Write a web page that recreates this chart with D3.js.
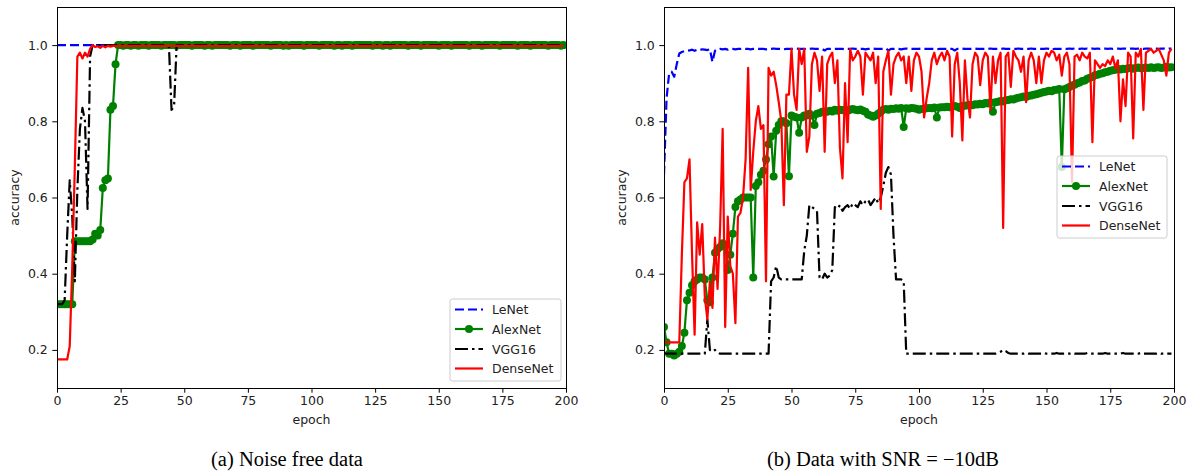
<!DOCTYPE html>
<html><head><meta charset="utf-8">
<script src="https://cdn.jsdelivr.net/npm/d3@7"></script>
<style>body{margin:0;background:#fff;} svg{display:block;}</style>
</head><body><svg id="c" width="1190" height="472"></svg>
<script>
const seriesNames = ["LeNet","AlexNet","VGG16","DenseNet"];
const xTicks = [0,25,50,75,100,125,150,175,200];
const yTicks = [0.2,0.4,0.6,0.8,1.0];
const captions = ["(a) Noise free data","(b) Data with SNR = \u221210dB"];
const epochs = d3.range(200);

// ---- (a) noise free ----
const lenetA = [
1,1,1,1,1,1,1,1,1,1, 1,1,1,1,1,1,1,1,1,1, 1,1,1,1,1,1,1,1,1,1, 1,1,1,1,1,1,1,1,1,1,
1,1,1,1,1,1,1,1,1,1, 1,1,1,1,1,1,1,1,1,1, 1,1,1,1,1,1,1,1,1,1, 1,1,1,1,1,1,1,1,1,1,
1,1,1,1,1,1,1,1,1,1, 1,1,1,1,1,1,1,1,1,1, 1,1,1,1,1,1,1,1,1,1, 1,1,1,1,1,1,1,1,1,1,
1,1,1,1,1,1,1,1,1,1, 1,1,1,1,1,1,1,1,1,1, 1,1,1,1,1,1,1,1,1,1, 1,1,1,1,1,1,1,1,1,1,
1,1,1,1,1,1,1,1,1,1, 1,1,1,1,1,1,1,1,1,1, 1,1,1,1,1,1,1,1,1,1, 1,1,1,1,1,1,1,1,1,1];
const alexA = [
0.32,0.32,0.32,0.32,0.32,0.32,0.32,0.485,0.485,0.485,
0.485,0.485,0.485,0.485,0.49,0.505,0.5,0.515,0.625,0.645,
0.65,0.83,0.84,0.95,1,1,0.998,1,1,0.998,
1,1,0.998,1,1,1,0.998,1,1,1, 1,0.998,1,1,1,1,1,0.998,1,1,
1,1,1,0.998,1,1,1,1,0.998,1, 1,0.998,1,1,1,1,1,1,0.998,1,
1,1,0.998,1,1,1,1,0.998,1,1, 1,1,1,1,0.998,1,1,1,1,0.998,
1,0.998,1,1,1,1,1,0.998,1,1, 1,1,1,0.998,1,1,1,1,1,0.998,
1,1,0.998,1,1,1,0.998,1,1,1, 1,1,1,1,0.998,1,1,1,0.998,1,
1,0.998,1,1,1,1,1,1,0.998,1, 1,1,1,0.998,1,1,1,1,1,1,
0.998,1,1,1,1,0.998,1,1,1,1, 1,1,0.998,1,1,1,1,0.998,1,1,
1,1,1,1,0.998,1,1,1,1,1, 1,0.998,1,1,1,1,0.998,1,1,1,
1,1,1,0.998,1,1,1,1,0.998,1, 1,1,1,1,1,0.998,1,1,1,1];
const vggA = [
0.32,0.32,0.32,0.33,0.5,0.645,0.55,0.38,0.62,0.78,
0.835,0.8,0.57,0.97,1,1,1,1,1,1,
1,1,1,1,1,1,1,1,1,1, 1,1,1,1,1,1,1,1,1,1,
1,1,1,1,0.995,0.83,0.84,1,1,1,
1,1,1,1,1,1,1,1,1,1, 1,1,1,1,1,1,1,1,1,1, 1,1,1,1,1,1,1,1,1,1, 1,1,1,1,1,1,1,1,1,1, 1,1,1,1,1,1,1,1,1,1,
1,1,1,1,1,1,1,1,1,1, 1,1,1,1,1,1,1,1,1,1, 1,1,1,1,1,1,1,1,1,1, 1,1,1,1,1,1,1,1,1,1, 1,1,1,1,1,1,1,1,1,1,
1,1,1,1,1,1,1,1,1,1, 1,1,1,1,1,1,1,1,1,1, 1,1,1,1,1,1,1,1,1,1, 1,1,1,1,1,1,1,1,1,1, 1,1,1,1,1,1,1,1,1,1];
const denseA = [
0.175,0.175,0.175,0.175,0.175,0.21,0.42,0.68,0.97,0.98,
0.965,0.98,0.97,0.99,1,0.995,0.997,0.993,0.998,0.994,
0.998,0.996,0.998,0.998,0.997,0.998,0.998,0.998,0.998,0.998,
0.998,0.998,0.998,0.998,0.998,0.998,0.998,0.998,0.998,0.998, 0.998,0.998,0.998,0.998,0.998,0.998,0.998,0.998,0.998,0.998,
0.998,0.998,0.998,0.998,0.998,0.998,0.998,0.998,0.998,0.998, 0.998,0.998,0.998,0.998,0.998,0.998,0.998,0.998,0.998,0.998,
0.998,0.998,0.998,0.998,0.998,0.998,0.998,0.998,0.998,0.998, 0.998,0.998,0.998,0.998,0.998,0.998,0.998,0.998,0.998,0.998,
0.998,0.998,0.998,0.998,0.998,0.998,0.998,0.998,0.998,0.998, 0.998,0.998,0.998,0.998,0.998,0.998,0.998,0.998,0.998,0.998,
0.998,0.998,0.998,0.998,0.998,0.998,0.998,0.998,0.998,0.998, 0.998,0.998,0.998,0.998,0.998,0.998,0.998,0.998,0.998,0.998,
0.998,0.998,0.998,0.998,0.998,0.998,0.998,0.998,0.998,0.998, 0.998,0.998,0.998,0.998,0.998,0.998,0.998,0.998,0.998,0.998,
0.998,0.998,0.998,0.998,0.998,0.998,0.998,0.998,0.998,0.998, 0.998,0.998,0.998,0.998,0.998,0.998,0.998,0.998,0.998,0.998,
0.998,0.998,0.998,0.998,0.998,0.998,0.998,0.998,0.998,0.998, 0.998,0.998,0.998,0.998,0.998,0.998,0.998,0.998,0.998,0.998,
0.998,0.998,0.998,0.998,0.998,0.998,0.998,0.998,0.998,0.998, 0.998,0.998,0.998,0.998,0.998,0.998,0.998,0.998,0.998,0.998,
0.998,0.998,0.998,0.998,0.998,0.998,0.998,0.998,0.998,0.998];

// ---- (b) SNR = -10dB ----
const lenetB = [
0.66,0.86,0.925,0.93,0.917,0.95,0.978,0.982,0.984,0.985,
0.986,0.988,0.985,0.988,0.987,0.989,0.988,0.987,0.989,0.956,
0.985,0.989,0.99,0.989,0.99,0.988,0.99,0.99,0.989,0.99,
0.99,0.991,0.99,0.99,0.989,0.99,0.991,0.99,0.99,0.99,
0.989,0.99,0.99,0.991,0.99,0.99,0.99,0.989,0.99,0.99,
0.99,0.99,0.991,0.99,0.99,0.99,0.989,0.99,0.991,0.99,
0.99,0.99,0.99,0.986,0.99,0.99,0.991,0.99,0.99,0.99,
0.99,0.989,0.99,0.99,0.991,0.99,0.99,0.99,0.99,0.989,
0.99,0.99,0.991,0.99,0.99,0.99,0.99,0.991,0.986,0.99,
0.99,0.99,0.99,0.989,0.99,0.991,0.99,0.99,0.99,0.99,
0.99,0.991,0.99,0.99,0.99,0.99,0.99,0.989,0.99,0.99,
0.99,0.99,0.99,0.99,0.986,0.99,0.99,0.991,0.99,0.99,
0.99,0.99,0.991,0.99,0.99,0.99,0.99,0.99,0.991,0.99,
0.99,0.99,0.99,0.991,0.99,0.99,0.99,0.99,0.99,0.991,
0.99,0.99,0.99,0.99,0.991,0.99,0.99,0.99,0.99,0.99,
0.991,0.99,0.987,0.99,0.99,0.99,0.99,0.99,0.99,0.991,
0.99,0.991,0.99,0.99,0.991,0.99,0.991,0.99,0.991,0.99,
0.991,0.99,0.991,0.991,0.99,0.991,0.99,0.991,0.991,0.99,
0.991,0.991,0.99,0.991,0.991,0.99,0.991,0.991,0.99,0.991,
0.991,0.99,0.991,0.991,0.99,0.991,0.991,0.99,0.991,0.991];
const alexB = [
0.26,0.22,0.19,0.19,0.185,0.19,0.195,0.21,0.245,0.33,
0.35,0.37,0.38,0.385,0.39,0.39,0.385,0.33,0.325,0.39,
0.455,0.465,0.47,0.48,0.475,0.41,0.45,0.505,0.575,0.59,
0.595,0.6,0.6,0.6,0.6,0.39,0.63,0.64,0.66,0.67,
0.7,0.74,0.76,0.655,0.775,0.79,0.8,0.8,0.795,0.656,
0.815,0.812,0.81,0.77,0.81,0.815,0.815,0.82,0.815,0.79,
0.82,0.822,0.825,0.826,0.825,0.828,0.826,0.83,0.828,0.83,
0.829,0.83,0.828,0.83,0.832,0.83,0.829,0.831,0.828,0.825,
0.818,0.815,0.812,0.815,0.82,0.825,0.83,0.832,0.83,0.833,
0.832,0.834,0.833,0.835,0.785,0.834,0.833,0.835,0.834,0.833,
0.83,0.832,0.833,0.834,0.835,0.834,0.836,0.81,0.836,0.837,
0.837,0.838,0.837,0.839,0.84,0.838,0.835,0.84,0.841,0.842,
0.843,0.842,0.845,0.844,0.846,0.845,0.848,0.847,0.85,0.825,
0.85,0.851,0.853,0.852,0.855,0.856,0.858,0.857,0.86,0.862,
0.863,0.865,0.864,0.867,0.868,0.87,0.871,0.873,0.875,0.877,
0.878,0.88,0.879,0.882,0.883,0.885,0.68,0.884,0.887,0.89,
0.894,0.896,0.9,0.902,0.906,0.907,0.912,0.914,0.916,0.921,
0.922,0.925,0.926,0.929,0.93,0.933,0.934,0.935,0.937,0.936,
0.938,0.937,0.939,0.94,0.938,0.94,0.941,0.939,0.94,0.941,
0.94,0.942,0.94,0.941,0.942,0.94,0.941,0.943,0.941,0.942];
const vggB = [
0.192,0.19,0.19,0.19,0.19,0.19,0.19,0.19,0.19,0.19,
0.19,0.19,0.19,0.19,0.19,0.19,0.19,0.28,0.2,0.195,
0.2,0.192,0.19,0.19,0.19,0.19,0.19,0.19,0.19,0.19,
0.19,0.19,0.19,0.19,0.19,0.19,0.19,0.19,0.19,0.19,
0.19,0.19,0.38,0.39,0.42,0.39,0.385,0.385,0.385,0.385,
0.385,0.385,0.385,0.385,0.385,0.46,0.5,0.58,0.575,0.57,
0.565,0.39,0.385,0.4,0.39,0.395,0.41,0.575,0.57,0.58,
0.565,0.575,0.58,0.57,0.585,0.58,0.575,0.59,0.58,0.59,
0.595,0.58,0.59,0.6,0.585,0.6,0.63,0.665,0.68,0.66,
0.5,0.385,0.385,0.385,0.38,0.19,0.19,0.19,0.19,0.19,
0.19,0.19,0.19,0.19,0.19,0.19,0.19,0.19,0.19,0.19,
0.19,0.19,0.19,0.19,0.19,0.19,0.19,0.19,0.19,0.19,
0.19,0.19,0.19,0.19,0.19,0.19,0.19,0.19,0.19,0.19,
0.19,0.192,0.195,0.2,0.197,0.192,0.19,0.19,0.19,0.19,
0.19,0.19,0.192,0.19,0.19,0.19,0.19,0.19,0.19,0.192,
0.19,0.19,0.19,0.19,0.192,0.19,0.19,0.19,0.19,0.19,
0.192,0.19,0.19,0.19,0.19,0.19,0.192,0.19,0.19,0.19,
0.19,0.19,0.19,0.192,0.19,0.19,0.19,0.19,0.19,0.19,
0.192,0.19,0.19,0.19,0.19,0.19,0.19,0.192,0.19,0.19,
0.19,0.19,0.19,0.19,0.192,0.19,0.19,0.19,0.19,0.19];
const denseB = [
0.22,0.22,0.22,0.22,0.22,0.22,0.22,0.45,0.64,0.65,
0.7,0.45,0.24,0.535,0.45,0.53,0.34,0.28,0.38,0.31,
0.495,0.36,0.52,0.78,0.26,0.55,0.42,0.4,0.27,0.55,
0.56,0.6,0.7,0.94,0.62,0.72,0.8,0.84,0.78,0.79,
0.38,0.94,0.92,0.93,0.895,0.85,0.8,0.58,0.87,0.87,
0.99,0.87,0.83,0.99,0.95,0.99,0.72,0.76,0.95,0.98,
0.96,0.88,0.97,0.72,0.95,0.97,0.98,0.9,0.96,0.73,
0.65,0.9,0.745,0.99,0.96,0.97,0.985,0.97,0.87,0.98,
0.97,0.96,0.98,0.9,0.97,0.57,0.93,0.96,0.985,0.87,
0.95,0.97,0.98,0.96,0.97,0.9,0.97,0.88,0.96,0.98,
0.97,0.93,0.81,0.86,0.9,0.96,0.98,0.95,0.97,0.98,
0.96,0.985,0.97,0.76,0.95,0.98,0.9,0.75,0.96,0.86,
0.81,0.95,0.98,0.97,0.895,0.96,0.98,0.97,0.83,0.97,
0.9,0.96,0.98,0.52,0.97,0.98,0.89,0.985,0.97,0.96,
0.93,0.97,0.85,0.96,0.98,0.96,0.9,0.97,0.9,0.96,
0.98,0.97,0.985,0.98,0.96,0.975,0.92,0.97,0.98,0.95,
0.64,0.97,0.975,0.96,0.98,0.97,0.965,0.98,0.745,0.96,
0.95,0.94,0.95,0.945,0.96,0.95,0.97,0.94,0.96,0.8,
0.91,0.84,0.98,0.97,0.755,0.98,0.97,0.99,0.83,0.98,
0.985,0.99,0.98,0.985,0.99,0.975,0.96,0.92,0.98,0.99];

const styles = [
  {color:"#0000ff", dash:"9,4", marker:false},
  {color:"#008000", dash:null, marker:true},
  {color:"#000000", dash:"13,4,2.5,4", marker:false},
  {color:"#ff0000", dash:null, marker:false}
];
const panels = [
  {series:[lenetA,alexA,vggA,denseA], x0:57, x1:566, lg:{x:450,y:299,w:111}, cap:captions[0], capX:287, yl:19},
  {series:[lenetB,alexB,vggB,denseB], x0:664, x1:1174, lg:{x:1057,y:156,w:110}, cap:captions[1], capX:883, yl:626}
];
const plotTop = 7, plotBottom = 388;
const svg = d3.select("#c");
const font = "DejaVu Sans, sans-serif";

panels.forEach((p, pi) => {
  const x = d3.scaleLinear().domain([0,200]).range([p.x0,p.x1]);
  const y = d3.scaleLinear().domain([0.1,1.1]).range([plotBottom,plotTop]);
  const g = svg.append("g");
  const clipId = "clip"+pi;
  svg.append("clipPath").attr("id",clipId).append("rect")
    .attr("x",p.x0).attr("y",plotTop).attr("width",p.x1-p.x0).attr("height",plotBottom-plotTop);
  const plot = g.append("g").attr("clip-path",`url(#${clipId})`);
  const line = d3.line().x((d,i)=>x(epochs[i])).y(d=>y(d));
  p.series.forEach((s, si) => {
    const st = styles[si];
    plot.append("path").datum(s).attr("d",line).attr("fill","none")
      .attr("stroke",st.color).attr("stroke-width",2.2)
      .attr("stroke-linejoin","round")
      .attr("stroke-dasharray",st.dash);
    if (st.marker) {
      plot.append("g").selectAll("circle").data(s).join("circle")
        .attr("cx",(d,i)=>x(epochs[i])).attr("cy",d=>y(d)).attr("r",4)
        .attr("fill",st.color);
    }
  });
  const xa = g.append("g").attr("transform",`translate(0,${plotBottom})`)
    .call(d3.axisBottom(x).tickValues(xTicks).tickSize(4.7).tickPadding(3.8).tickFormat(d3.format("d")));
  const ya = g.append("g").attr("transform",`translate(${p.x0},0)`)
    .call(d3.axisLeft(y).tickValues(yTicks).tickSize(4.7).tickPadding(4.5).tickFormat(d3.format(".1f")));
  [xa,ya].forEach(a=>{
    a.select(".domain").remove();
    a.selectAll("text").attr("font-family",font).attr("font-size","12.5px").attr("fill","#222");
    a.selectAll("line").attr("stroke","#000").attr("stroke-width",1);
  });
  g.append("rect").attr("x",p.x0).attr("y",plotTop).attr("width",p.x1-p.x0).attr("height",plotBottom-plotTop)
    .attr("fill","none").attr("stroke","#000").attr("stroke-width",1).attr("shape-rendering","crispEdges");
  g.append("text").attr("x",(p.x0+p.x1)/2).attr("y",424).attr("text-anchor","middle")
    .attr("font-family",font).attr("font-size","12.5px").attr("fill","#222").text("epoch");
  g.append("text").attr("transform",`translate(${p.yl},${(plotTop+plotBottom)/2}) rotate(-90)`)
    .attr("text-anchor","middle").attr("font-family",font).attr("font-size","12.5px").attr("fill","#222").text("accuracy");
  const lg = g.append("g").attr("transform",`translate(${p.lg.x},${p.lg.y})`);
  lg.append("rect").attr("width",p.lg.w).attr("height",82).attr("rx",2.5)
    .attr("fill","#fff").attr("fill-opacity",0.8).attr("stroke","#cccccc").attr("stroke-width",1);
  const rowY = [10.5,30,50,69.5];
  seriesNames.forEach((n, si) => {
    const st = styles[si];
    const ry = rowY[si];
    lg.append("line").attr("x1",5).attr("x2",33).attr("y1",ry).attr("y2",ry)
      .attr("stroke",st.color).attr("stroke-width",2.2).attr("stroke-dasharray",st.dash);
    if (st.marker) lg.append("circle").attr("cx",19).attr("cy",ry).attr("r",4).attr("fill",st.color);
    lg.append("text").attr("x",42).attr("y",ry).attr("dy","0.36em")
      .attr("font-family",font).attr("font-size","12.5px").attr("fill","#222").text(n);
  });
  svg.append("text").attr("x",p.capX).attr("y",466).attr("text-anchor","middle")
    .attr("font-family","Liberation Serif, Times New Roman, serif").attr("font-size","20.5px")
    .attr("fill","#000").text(p.cap);
});
</script></body></html>
